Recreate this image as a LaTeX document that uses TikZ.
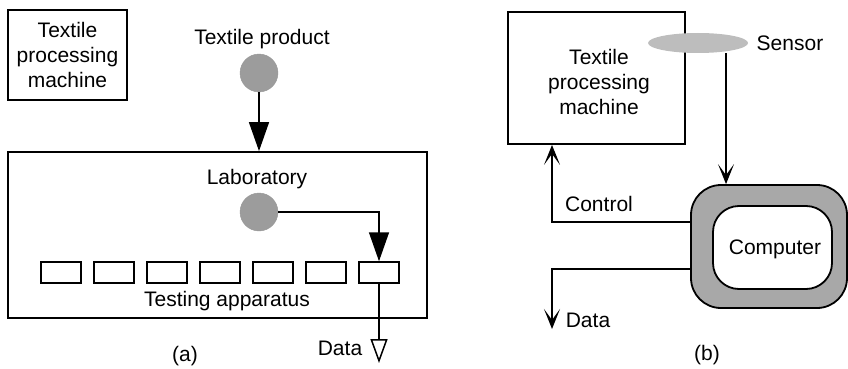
\documentclass[tikz,border=0pt]{standalone}
\usepackage{fontspec}
\setmainfont{Liberation Sans}
\usetikzlibrary{arrows.meta,shapes.geometric}
\definecolor{dotgray}{HTML}{9C9C9C}
\definecolor{sensgray}{HTML}{BDBDBD}
\definecolor{compgray}{HTML}{A8A8A8}
\tikzset{
  box/.style={draw, line width=1.8pt, inner sep=0pt, align=center},
  slot/.style={draw, line width=1.5pt, minimum width=40pt, minimum height=21pt, inner sep=0pt},
  dot/.style={circle, fill=dotgray, draw=gray!80, line width=0.4pt, minimum size=38pt, inner sep=0pt},
  lbl/.style={anchor=base, inner sep=0pt},
  conn/.style={line width=1.5pt},
  bigtip/.style={-{Triangle[length=29pt,width=20pt]}},
  opentip/.style={-{Triangle[open,length=24pt,width=17pt]}},
  barb/.style={-{Stealth[length=20pt,width=16pt,inset=11pt]}},
}
\begin{document}
\begin{tikzpicture}[x=1pt,y=-1pt,font=\fontsize{21}{25}\selectfont]
\useasboundingbox (0,0) rectangle (848,369);

% ---------- (a) laboratory testing ----------
\node[box, minimum width=119pt, minimum height=90pt] (machA) at (67.5,55) {Textile\\processing\\machine};

\node[lbl] (prodlbl) at (262,45) {Textile product};
\node[dot] (prod) at (259,73) {};

\node[box, minimum width=419pt, minimum height=166pt] (lab) at (217.5,235) {};
\node[lbl] (lablbl) at (257,184) {Laboratory};
\node[dot] (labdot) at (259,212) {};

\foreach \i in {1,...,7}
  \node[slot] (t\i) at ({61+53*(\i-1)},272.5) {};
\node[lbl] (testlbl) at (227,306) {Testing apparatus};

\draw[conn, bigtip] (prod) -- (prod |- lab.north);
\draw[conn, bigtip] (labdot.east) -| (t7.north);
\coordinate (dataA) at (379,363);
\draw[conn, opentip] (t7.south) -- (dataA);
\node[lbl] (datalblA) at (340,355) {Data};
\node[lbl] (capA) at (185,361) {(a)};

% ---------- (b) on-line monitoring ----------
\node[box, minimum width=177pt, minimum height=132pt] (machB) at (596.5,78) {};
\node[align=center, inner sep=0pt] (machBtxt) at (599,82) {Textile\\processing\\machine};
\node[ellipse, fill=sensgray, minimum width=100pt, minimum height=20pt, inner sep=0pt] (sensor) at (698,43) {};
\node[lbl] (senslbl) at (790,51) {Sensor};

\node[draw, line width=1.8pt, fill=compgray, rounded corners=30pt,
      minimum width=156pt, minimum height=123pt] (comp) at (769,246.5) {};
\node[draw, line width=1.8pt, fill=white, rounded corners=26pt,
      minimum width=119pt, minimum height=83pt] (cpu) at (772.5,247.5) {};
\node[lbl] (complbl) at (775,254) {Computer};

\draw[conn, barb] ([xshift=28pt]sensor.south) -- ([xshift=28pt]sensor.south |- comp.north);
\draw[conn, barb] ([yshift=24.5pt]comp.west) -| ([xshift=-44.5pt]machB.south);
\node[lbl] (ctrllbl) at (599,211) {Control};
\coordinate (dataB) at (552,329);
\draw[conn, barb] ([yshift=-22.5pt]comp.west) -| (dataB);
\node[lbl] (datalblB) at (588,327) {Data};
\node[lbl] (capB) at (707,360) {(b)};
\end{tikzpicture}
\end{document}
